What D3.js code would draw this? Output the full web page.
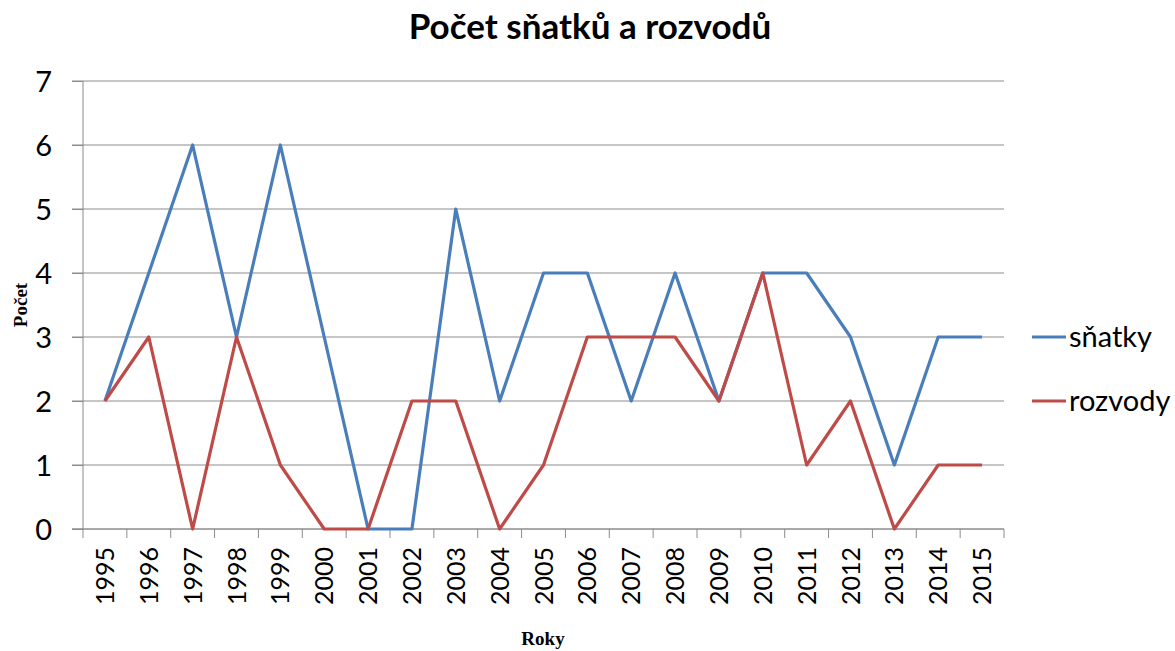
<!DOCTYPE html>
<html lang="cs">
<head>
    <meta charset="UTF-8">
    <script src="https://d3js.org/d3.v7.min.js"></script>
    <title>Počet sňatků a rozvodů</title>
    <style>
        body { margin: 0; background: #fff; }
        text { font-family: Lato, 'Open Sans', sans-serif; fill: #000; }
        .axis path { display: none; }
        .axis line { stroke: #8c8c8c; stroke-width: 1; }
        .grid line { stroke: #8c8c8c; stroke-width: 1; }
        text.axtitle { font-family: 'Liberation Serif', 'DejaVu Serif', serif; font-weight: bold; font-size: 19px; }
    </style>
</head>
<body>
<svg height="651" width="1175"></svg>
<script>
    const years = ["1995","1996","1997","1998","1999","2000","2001","2002","2003","2004",
        "2005","2006","2007","2008","2009","2010","2011","2012","2013","2014","2015"];
    const snatky = [2,4,6,3,6,3,0,0,5,2,4,4,2,4,2,4,4,3,1,3,3];
    const rozvody = [2,3,0,3,1,0,0,2,2,0,1,3,3,3,2,4,1,2,0,1,1];
    const yTicks = [0,1,2,3,4,5,6,7];
    const seriesNames = ["sňatky", "rozvody"];
    const colors = ["#4a7ebb", "#be4b48"];

    const mLeft = 83, mRight = 1004, mTop = 81, mBottom = 529;
    const svg = d3.select("svg");

    const x = d3.scaleBand().domain(years).range([mLeft, mRight]);
    const y = d3.scaleLinear().domain([0, 7]).range([mBottom, mTop]);

    // gridlines
    svg.append("g").attr("class", "grid")
        .selectAll("line").data(yTicks).enter().append("line")
        .attr("x1", mLeft - 11).attr("x2", mRight)
        .attr("y1", y).attr("y2", y);

    // y axis
    const yAxis = d3.axisLeft(y).tickValues(yTicks).tickFormat(d3.format("d"))
        .tickSize(11).tickPadding(20);
    const gy = svg.append("g").attr("class", "axis")
        .attr("transform", `translate(${mLeft},0)`).call(yAxis);
    gy.selectAll("text").style("font-size", "29px").attr("dy", "0.36em");
    svg.append("line").attr("x1", mLeft).attr("x2", mLeft).attr("y1", mTop).attr("y2", mBottom)
        .attr("stroke", "#8c8c8c");

    // x axis: ticks at band boundaries
    svg.append("line").attr("x1", mLeft - 11).attr("x2", mRight).attr("y1", mBottom).attr("y2", mBottom)
        .attr("stroke", "#8c8c8c");
    const bounds = years.map(d => x(d)).concat([mRight]);
    svg.append("g").attr("class", "axis")
        .selectAll("line").data(bounds).enter().append("line")
        .attr("x1", d => d).attr("x2", d => d)
        .attr("y1", mBottom).attr("y2", mBottom + 9);
    svg.append("g").selectAll("text").data(years).enter().append("text")
        .attr("transform", d => `translate(${x(d) + x.bandwidth() / 2 + 9},${mBottom + 18}) rotate(-90)`)
        .attr("text-anchor", "end")
        .style("font-size", "25px")
        .text(d => d);

    // lines
    const line = d3.line().x((d, i) => x(years[i]) + x.bandwidth() / 2).y(d => y(d));
    [snatky, rozvody].forEach((s, i) => {
        svg.append("path").datum(s)
            .attr("d", line)
            .attr("fill", "none")
            .attr("stroke", colors[i])
            .attr("stroke-width", 3.2)
            .attr("stroke-linejoin", "round");
    });

    // title
    svg.append("text").attr("x", 590).attr("y", 39)
        .attr("text-anchor", "middle")
        .style("font-size", "35px").style("font-weight", "bold")
        .text("Počet sňatků a rozvodů");

    // axis titles
    svg.append("text").attr("class", "axtitle")
        .attr("x", 543).attr("y", 645).attr("text-anchor", "middle").text("Roky");
    svg.append("text").attr("class", "axtitle")
        .attr("transform", "translate(27,305) rotate(-90)")
        .attr("text-anchor", "middle").text("Počet");

    // legend
    const lg = svg.append("g").selectAll("g").data(seriesNames).enter().append("g")
        .attr("transform", (d, i) => `translate(1032,${y(3) + i * (y(2) - y(3))})`);
    lg.append("line").attr("x1", 0).attr("x2", 34).attr("y1", 0).attr("y2", 0)
        .attr("stroke", (d, i) => colors[i]).attr("stroke-width", 3.2);
    lg.append("text").attr("x", 37).attr("y", 0).attr("dy", "0.33em")
        .style("font-size", "29px").text(d => d);
</script>
</body>
</html>
